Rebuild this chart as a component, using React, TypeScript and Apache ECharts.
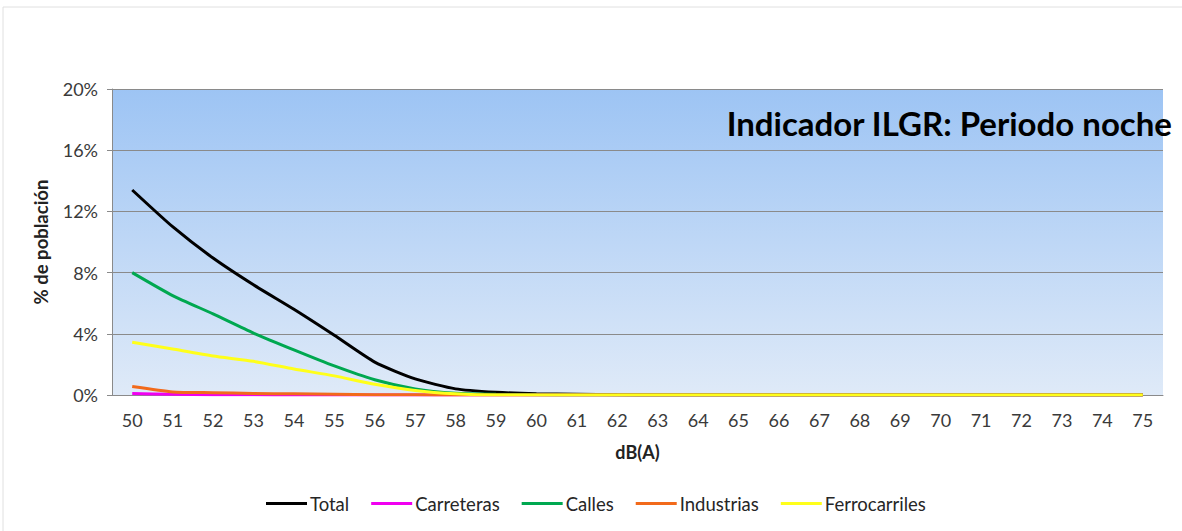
import React, { useEffect, useRef } from "react";
import * as echarts from "echarts";

const categories = ["50","51","52","53","54","55","56","57","58","59","60","61","62","63","64","65","66","67","68","69","70","71","72","73","74","75"];

const total = [13.4, 11.0, 8.95, 7.2, 5.6, 3.9, 2.15, 1.05, 0.4, 0.18, 0.08, 0.05, 0.02, 0, 0, 0, 0, 0, 0, 0, 0, 0, 0, 0, 0, 0];
const carreteras = [0.1, 0.05, 0.02, 0.01, 0, 0, 0, 0, 0, 0, 0, 0, 0, 0, 0, 0, 0, 0, 0, 0, 0, 0, 0, 0, 0, 0];
const calles = [8.0, 6.5, 5.3, 4.05, 2.95, 1.9, 1.0, 0.4, 0.12, 0.05, 0.02, 0, 0, 0, 0, 0, 0, 0, 0, 0, 0, 0, 0, 0, 0, 0];
const industrias = [0.55, 0.2, 0.15, 0.1, 0.08, 0.05, 0.02, 0.01, 0, 0, 0, 0, 0, 0, 0, 0, 0, 0, 0, 0, 0, 0, 0, 0, 0, 0];
const ferrocarriles = [3.45, 3.0, 2.55, 2.2, 1.7, 1.25, 0.7, 0.3, 0.08, 0, 0, 0, 0, 0, 0, 0, 0, 0, 0, 0, 0, 0, 0, 0, 0, 0];

const seriesNames = ["Total", "Carreteras", "Calles", "Industrias", "Ferrocarriles"];
const seriesData = [total, carreteras, calles, industrias, ferrocarriles];
const seriesColors = ["#000000", "#F000F0", "#00A850", "#F26A1B", "#FFFF1A"];

const FONT = "Lato, 'Liberation Sans', sans-serif";

export default function App() {
  const ref = useRef<HTMLDivElement>(null);
  useEffect(() => {
    document.body.style.margin = "0";
    const chart = echarts.init(ref.current!, null, { renderer: "svg" });
    chart.setOption({
      animation: false,
      backgroundColor: "#ffffff",
      textStyle: { fontFamily: FONT },
      graphic: [
        {
          type: "rect",
          shape: { x: 3, y: 7, width: 1185, height: 530 },
          style: { fill: "none", stroke: "#e0e0e0", lineWidth: 1 },
          z: 0,
        },
        {
          type: "text",
          x: 1172,
          y: 123,
          style: {
            text: "Indicador ILGR: Periodo noche",
            fontFamily: FONT,
            fontWeight: "bold",
            fontSize: 33,
            fill: "#000",
            textAlign: "right",
            textVerticalAlign: "middle",
          },
          z: 100,
        },
      ],
      grid: {
        left: 112,
        right: 19,
        top: 89,
        bottom: 136,
        show: true,
        borderWidth: 0,
        backgroundColor: new echarts.graphic.LinearGradient(0, 0, 0, 1, [
          { offset: 0, color: "#9DC4F4" },
          { offset: 1, color: "#DFEAF8" },
        ]),
      },
      legend: {
        bottom: 13,
        left: 261,
        icon: "rect",
        itemWidth: 41,
        itemHeight: 3,
        itemGap: 22,
        textStyle: { fontSize: 18.5, color: "#262626", fontFamily: FONT, padding: [0, 0, 0, -2] },
        data: seriesNames,
      },
      xAxis: {
        type: "category",
        data: categories,
        name: "dB(A)",
        nameLocation: "middle",
        nameGap: 48,
        nameTextStyle: { fontWeight: "bold", fontSize: 18, color: "#222", fontFamily: FONT },
        axisLine: { lineStyle: { color: "#8a8a8a", width: 1 } },
        axisTick: { length: 6, lineStyle: { color: "#8a8a8a" } },
        axisLabel: { fontSize: 18, color: "#3a3a3a", margin: 16, fontFamily: FONT },
      },
      yAxis: {
        type: "value",
        min: 0,
        max: 20,
        interval: 4,
        name: "% de población",
        nameLocation: "middle",
        nameGap: 62,
        nameRotate: 90,
        nameTextStyle: { fontWeight: "bold", fontSize: 18.5, color: "#222", fontFamily: FONT },
        axisLine: { show: true, lineStyle: { color: "#8a8a8a" } },
        axisTick: { show: true, length: 5, inside: false, lineStyle: { color: "#8a8a8a" } },
        axisLabel: { fontSize: 18, color: "#3a3a3a", margin: 14, formatter: "{value}%", fontFamily: FONT },
        splitLine: { lineStyle: { color: "#8a8a8a", width: 1 } },
      },
      series: seriesNames.map((name, i) => ({
        name,
        type: "line",
        data: seriesData[i],
        showSymbol: false,
        symbol: "none",
        smooth: 0.2,
        lineStyle: { color: seriesColors[i], width: 3 },
        itemStyle: { color: seriesColors[i] },
      })),
    });
    return () => chart.dispose();
  }, []);
  return <div ref={ref} style={{ width: 1182, height: 531 }} />;
}
